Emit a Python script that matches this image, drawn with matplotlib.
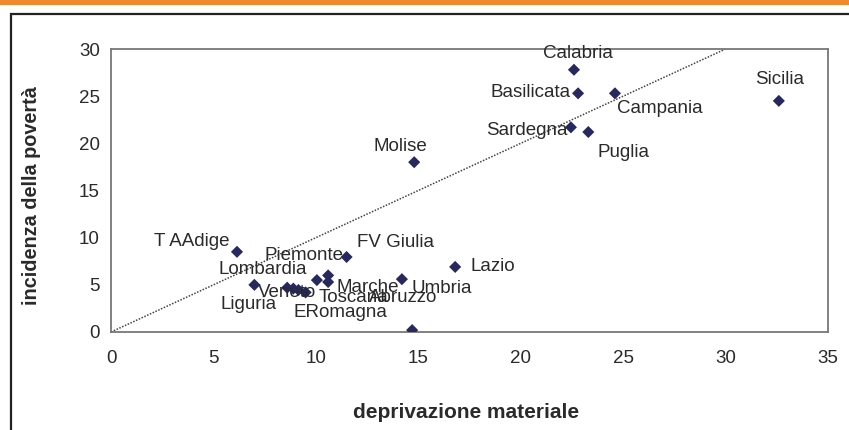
import matplotlib
matplotlib.use("Agg")
import matplotlib.pyplot as plt
from matplotlib.patches import Rectangle

plt.rcParams['font.family'] = ['Liberation Sans', 'DejaVu Sans']

regions = ["Calabria", "Basilicata", "Campania", "Sicilia", "Sardegna", "Puglia",
           "Molise", "T AAdige", "FV Giulia", "Lazio", "Umbria", "Valle d'Aosta",
           "Liguria", "Piemonte", "Abruzzo", "Marche", "Lombardia", "Veneto",
           "ERomagna", "Toscana"]
deprivazione = [22.6, 22.8, 24.6, 32.6, 22.45, 23.3,
                14.8, 6.15, 11.5, 16.8, 14.2, 14.7,
                7.0, 10.05, 10.6, 10.6, 8.6, 8.9,
                9.15, 9.5]
incidenza = [27.8, 25.3, 25.3, 24.5, 21.7, 21.2,
             18.0, 8.5, 7.95, 6.9, 5.6, 0.2,
             5.0, 5.5, 6.0, 5.3, 4.7, 4.6,
             4.45, 4.2]
show_label = [True] * 11 + [False] + [True] * 8
trend_slope = 1.0
trend_xmax = 30

x_ticks = [0, 5, 10, 15, 20, 25, 30, 35]
y_ticks = [0, 5, 10, 15, 20, 25, 30]

# label placement offsets (pixels) and alignment
label_style = {
    "Calabria": (4, 16, "center"),
    "Basilicata": (-7, 1, "right"),
    "Campania": (2, -15, "left"),
    "Sicilia": (1, 21, "center"),
    "Sardegna": (-3, -3, "right"),
    "Puglia": (9, -20, "left"),
    "Molise": (-14, 16, "center"),
    "T AAdige": (-7, 10, "right"),
    "FV Giulia": (10, 15, "left"),
    "Lazio": (15, 0, "left"),
    "Umbria": (10, -9, "left"),
    "Liguria": (-34, -20, "left"),
    "Piemonte": (-52, 25, "left"),
    "Abruzzo": (41, -22, "left"),
    "Marche": (8, -5, "left"),
    "Lombardia": (-69, 18, "left"),
    "Veneto": (-35, -4, "left"),
    "ERomagna": (-5, -22, "left"),
    "Toscana": (13, -5, "left"),
}

fig = plt.figure(figsize=(8.49, 4.30), dpi=100)
fig.patch.set_facecolor("white")

# orange strip at top and outer frame
fig.patches.append(Rectangle((0, 1 - 5 / 430), 1, 5 / 430, transform=fig.transFigure,
                             facecolor="#f08a2c", edgecolor="none", zorder=0))
fig.patches.append(Rectangle((11 / 849, -0.05), 1.2, 1 - 14 / 430 + 0.05,
                             transform=fig.transFigure, facecolor="none",
                             edgecolor="#222222", linewidth=1.6, zorder=1))

ax = fig.add_axes([111 / 849, 1 - 332 / 430, (828 - 111) / 849, (332 - 49) / 430])
ax.set_xlim(0, 35)
ax.set_ylim(0, 30)

ax.plot([0, trend_xmax], [0, trend_slope * trend_xmax], linestyle=(0, (1, 1)),
        color="#444444", linewidth=1.1, zorder=2)

ax.scatter(deprivazione, incidenza, marker="D", s=38, color="#27285e", zorder=3,
           edgecolors="none")

for name, xv, yv, show in zip(regions, deprivazione, incidenza, show_label):
    if not show:
        continue
    dx, dy, ha = label_style[name]
    ax.annotate(name, (xv, yv), xytext=(dx, dy), textcoords="offset pixels",
                ha=ha, va="center", fontsize=13.5, color="#2a2a2a", zorder=4)

ax.set_xticks(x_ticks)
ax.set_yticks(y_ticks)
ax.tick_params(length=0, labelsize=13.5, labelcolor="#2a2a2a")
ax.tick_params(axis="x", pad=13)
ax.tick_params(axis="y", pad=8)
for s in ax.spines.values():
    s.set_color("#777777")
    s.set_linewidth(1.3)

fig.text(466 / 849, 1 - 412 / 430, "deprivazione materiale", ha="center", va="center",
         fontsize=15, fontweight="bold", color="#2a2a2a")
fig.text(32 / 849, 1 - 196 / 430, "incidenza della povertà", ha="center", va="center",
         rotation=90, fontsize=14.3, fontweight="bold", color="#2a2a2a")

fig.savefig("out.png", dpi=100)
